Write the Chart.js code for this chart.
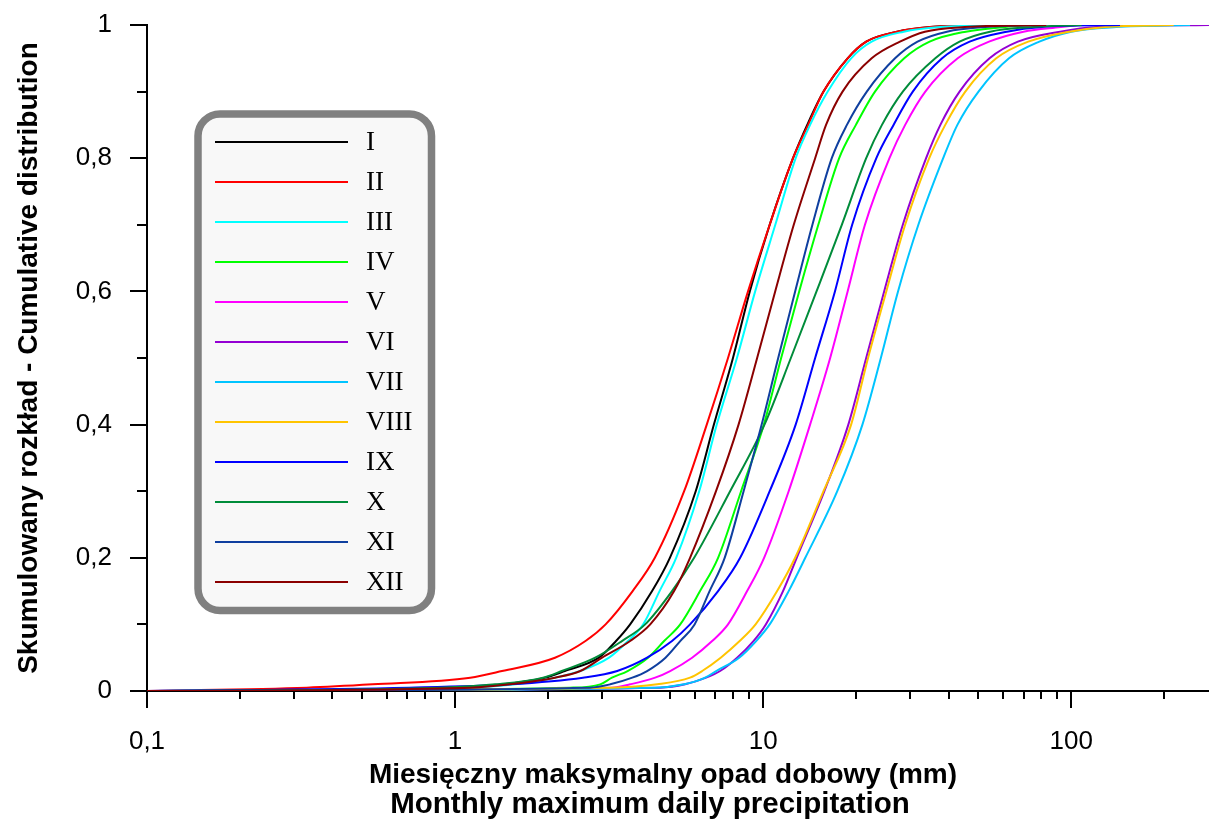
<!DOCTYPE html>
<html>
<head>
<meta charset="utf-8">
<script src="https://cdn.jsdelivr.net/npm/chart.js@4.4.1/dist/chart.umd.min.js"></script>
<style>
  body { margin: 0; background: #fff; }
  #wrap { width: 1209px; height: 819px; }
</style>
</head>
<body>
<div id="wrap"><canvas id="cdfChart" width="1209" height="819"></canvas></div>
<script>
// cumulative probability levels, shared by all months
const probLevels = [0, 0.005, 0.01, 0.02, 0.03, 0.05, 0.075, 0.1, 0.15, 0.2, 0.3, 0.4, 0.5, 0.6, 0.7, 0.8, 0.85, 0.9, 0.95, 0.975, 0.99, 0.997, 1];

const monthLabels = ['I', 'II', 'III', 'IV', 'V', 'VI', 'VII', 'VIII', 'IX', 'X', 'XI', 'XII'];
const monthColors = ['#000000', '#ff0000', '#00ffff', '#00ff00', '#ff00ff', '#9400d3',
                     '#00c4ff', '#ffc400', '#0000ff', '#008c3a', '#0f3f9f', '#8b0000'];

// precipitation (mm) reached at each probability level
const precipI    = [0.1, 1.0, 1.43, 1.96, 2.27, 2.93, 3.33, 3.70, 4.36, 4.98, 6.04, 6.92, 7.98, 9.05, 10.5, 12.5, 13.9, 15.7, 18.8, 21.6, 27.2, 34.8, 50];
const precipII   = [0.1, 0.33, 0.54, 1.12, 1.42, 2.11, 2.65, 3.08, 3.77, 4.45, 5.54, 6.56, 7.69, 8.93, 10.5, 12.5, 14.0, 15.7, 18.8, 21.6, 27.2, 34.8, 55];
const precipIII  = [0.1, 1.12, 1.57, 2.11, 2.55, 3.16, 3.64, 4.08, 4.61, 5.22, 6.20, 7.07, 8.22, 9.42, 10.95, 12.75, 14.2, 16.2, 19.3, 22.5, 28.6, 37.6, 60];
const precipIV   = [0.1, 2.36, 2.96, 3.23, 3.63, 4.23, 4.77, 5.38, 6.24, 7.14, 8.48, 10.05, 11.44, 13.09, 15.1, 17.65, 20.0, 23.07, 28.7, 34.7, 45.5, 61.1, 75];
const precipV    = [0.1, 3.23, 3.70, 4.46, 4.99, 5.88, 6.83, 7.69, 8.87, 10.07, 12.1, 14.2, 16.5, 18.8, 21.4, 25.7, 28.9, 33.6, 42.8, 54.1, 70.0, 92.5, 105];
const precipVI   = [0.1, 4.63, 5.58, 6.53, 7.25, 8.23, 9.3, 10.2, 11.6, 12.85, 15.8, 18.9, 21.6, 24.7, 28.4, 33.8, 37.6, 43.4, 54.3, 67.1, 92.1, 121.4, 280];
const precipVII  = [0.1, 4.46, 5.54, 6.48, 7.04, 8.36, 9.49, 10.5, 12.1, 13.7, 17.4, 21.0, 24.1, 27.4, 31.9, 38.4, 42.7, 50.0, 62.8, 78.8, 100, 140, 243];
const precipVIII = [0.1, 3.19, 4.53, 5.79, 6.34, 7.28, 8.39, 9.45, 11.1, 12.7, 15.7, 19.3, 21.9, 25.1, 28.9, 34.6, 39.0, 45.3, 57.1, 72.5, 98.5, 128.9, 215];
const precipIX   = [0.1, 0.71, 1.50, 2.60, 3.36, 4.2, 5.06, 5.79, 7.14, 8.42, 10.5, 12.75, 14.75, 17.1, 19.45, 23.3, 26.5, 30.6, 38.1, 46.8, 61.8, 80.3, 144];
const precipX    = [0.1, 0.89, 1.35, 1.93, 2.22, 2.85, 3.48, 4.14, 5.06, 5.97, 7.81, 10.1, 12.3, 14.9, 18.0, 21.6, 24.3, 28.4, 36.2, 43.4, 54.5, 75.3, 108];
const precipXI   = [0.1, 2.74, 3.19, 3.76, 4.2, 4.82, 5.38, 5.99, 6.7, 7.5, 8.64, 9.89, 11.19, 12.7, 14.45, 16.7, 18.7, 21.7, 26.8, 31.7, 39.5, 52.6, 80];
const precipXII  = [0.1, 1.12, 1.51, 2.11, 2.55, 3.0, 3.70, 4.30, 5.14, 5.79, 7.03, 8.32, 9.56, 10.94, 12.57, 14.75, 16.0, 18.1, 22.5, 27.8, 33.5, 45.1, 83];

const monthPrecip = [precipI, precipII, precipIII, precipIV, precipV, precipVI,
                     precipVII, precipVIII, precipIX, precipX, precipXI, precipXII];

// axis ticks
const xTickValues = [0.1, 0.2, 0.3, 0.4, 0.5, 0.6, 0.7, 0.8, 0.9,
                     1, 2, 3, 4, 5, 6, 7, 8, 9,
                     10, 20, 30, 40, 50, 60, 70, 80, 90,
                     100, 200];
const xTickLabels = { 0.1: '0,1', 1: '1', 10: '10', 100: '100' };
const yTickValues = [0, 0.1, 0.2, 0.3, 0.4, 0.5, 0.6, 0.7, 0.8, 0.9, 1];
const yTickLabels = ['0', '', '0,2', '', '0,4', '', '0,6', '', '0,8', '', '1'];

const xTitle = ['Miesięczny maksymalny opad dobowy (mm)', 'Monthly maximum daily precipitation'];
const yTitle = 'Skumulowany rozkład - Cumulative distribution';

const sansFont = '"Liberation Sans", Arial, sans-serif';

// outward ticks: long at labelled values, short in between
const axisTicks = {
    id: 'axisTicks',
    afterDraw(chart) {
        const { ctx, scales: { x, y } } = chart;
        ctx.save();
        ctx.strokeStyle = '#000';
        ctx.lineWidth = 2;
        ctx.beginPath();
        x.ticks.forEach(t => {
            const px = Math.round(x.getPixelForValue(t.value));
            const len = xTickLabels[t.value] !== undefined ? 17 : 8;
            ctx.moveTo(px, x.top);
            ctx.lineTo(px, x.top + len);
        });
        y.ticks.forEach((t, i) => {
            const py = Math.round(y.getPixelForValue(t.value));
            const len = yTickLabels[i] ? 17 : 10;
            ctx.moveTo(y.right, py);
            ctx.lineTo(y.right - len, py);
        });
        ctx.stroke();

        // two-line x axis title
        ctx.fillStyle = '#000';
        ctx.textAlign = 'center';
        ctx.textBaseline = 'alphabetic';
        ctx.font = 'bold 28px ' + sansFont;
        ctx.fillText(xTitle[0], 663, 783);
        ctx.font = 'bold 29.5px ' + sansFont;
        ctx.fillText(xTitle[1], 650, 813);
        ctx.restore();
    }
};

// legend in a rounded grey frame inside the plot
const boxLegend = {
    id: 'boxLegend',
    afterDraw(chart) {
        const ctx = chart.ctx;
        const l = 198, t = 114, w = 233.5, h = 496.5, r = 22;
        ctx.save();
        ctx.beginPath();
        ctx.moveTo(l + r, t);
        ctx.arcTo(l + w, t, l + w, t + h, r);
        ctx.arcTo(l + w, t + h, l, t + h, r);
        ctx.arcTo(l, t + h, l, t, r);
        ctx.arcTo(l, t, l + w, t, r);
        ctx.closePath();
        ctx.fillStyle = '#f8f8f8';
        ctx.fill();
        ctx.lineWidth = 7.5;
        ctx.strokeStyle = '#808080';
        ctx.stroke();

        ctx.font = '27px "Liberation Serif", "Times New Roman", serif';
        ctx.textBaseline = 'middle';
        ctx.fillStyle = '#000';
        chart.data.datasets.forEach((ds, i) => {
            const yy = 142 + i * 40;
            ctx.beginPath();
            ctx.strokeStyle = ds.borderColor;
            ctx.lineWidth = 2;
            ctx.moveTo(215, yy);
            ctx.lineTo(348, yy);
            ctx.stroke();
            ctx.fillText(ds.label, 366, yy + 1);
        });
        ctx.restore();
    }
};

const canvas = document.getElementById('cdfChart');

new Chart(canvas.getContext('2d'), {
    type: 'line',
    data: {
        datasets: monthLabels.map((label, i) => ({
            label: label,
            data: probLevels.map((p, k) => ({ x: monthPrecip[i][k], y: p })),
            borderColor: monthColors[i],
            backgroundColor: monthColors[i],
            borderWidth: 2,
            pointRadius: 0,
            fill: false,
            cubicInterpolationMode: 'monotone',
            order: monthLabels.length - i
        }))
    },
    options: {
        responsive: false,
        animation: false,
        devicePixelRatio: 1,
        layout: { padding: { top: 25, right: 0, bottom: 0, left: 0 } },
        plugins: {
            legend: { display: false },
            tooltip: { enabled: false }
        },
        scales: {
            x: {
                type: 'logarithmic',
                min: 0.1,
                max: 280,
                grid: { display: false, drawTicks: false },
                border: { display: true, color: '#000', width: 2 },
                afterBuildTicks: s => { s.ticks = xTickValues.map(v => ({ value: v })); },
                afterFit: s => { s.height = 128; s.paddingLeft = 0; s.paddingRight = 0; },
                ticks: {
                    autoSkip: false,
                    maxRotation: 0,
                    padding: 35,
                    color: '#000',
                    font: { family: sansFont, size: 26 },
                    callback: v => xTickLabels[v] !== undefined ? xTickLabels[v] : ''
                }
            },
            y: {
                min: 0,
                max: 1,
                grid: { display: false, drawTicks: false },
                border: { display: true, color: '#000', width: 2 },
                afterBuildTicks: s => { s.ticks = yTickValues.map(v => ({ value: v })); },
                afterFit: s => { s.width = 147; s.paddingTop = 0; s.paddingBottom = 0; },
                ticks: {
                    autoSkip: false,
                    padding: 35,
                    color: '#000',
                    font: { family: sansFont, size: 26 },
                    callback: (v, i) => yTickLabels[i]
                },
                title: {
                    display: true,
                    text: yTitle,
                    color: '#000',
                    font: { family: sansFont, size: 28, weight: 'bold' },
                    padding: { top: 12, bottom: 0 }
                }
            }
        }
    },
    plugins: [axisTicks, boxLegend]
});
</script>
</body>
</html>
